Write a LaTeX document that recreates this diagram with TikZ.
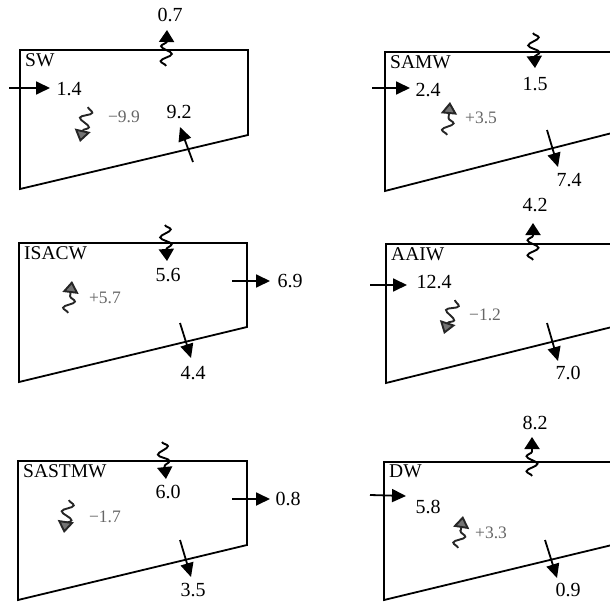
\documentclass[tikz,border=0pt]{standalone}
\usepackage{fontspec}
\setmainfont{Liberation Serif}
\usetikzlibrary{arrows.meta,decorations.pathmorphing}
\tikzset{
  box/.style={line width=1.8pt, line join=miter},
  flow/.style={line width=1.8pt, -{Triangle[length=14pt,width=13pt]}},
  wave/.style={line width=1.9pt, decorate, decoration={snake,amplitude=5.5pt,segment length=15pt,post length=9pt}, -{Triangle[length=12pt,width=15pt]}},
  mixwave/.style={wave, draw=black!85, -{Triangle[length=12pt,width=16pt,fill=black!55]}},
  num/.style={font=\fontsize{20}{22}\selectfont, inner sep=0pt},
  wname/.style={font=\fontsize{19.5}{21}\selectfont, anchor=north west, inner sep=0pt},
  mix/.style={font=\fontsize{17.5}{19}\selectfont, text=black!60, inner sep=0pt}
}
\begin{document}
\begin{tikzpicture}[x=1pt,y=-1pt]
\useasboundingbox (0,0) rectangle (610,604);
% SW
\draw[box] (20,50) -- (248,50) -- (248,135) -- (20,189) -- cycle;
\node[wname] (sw) at (25,53) {SW};
\coordinate (sw-t0) at (166,66); \coordinate (sw-t1) at (167,30);
\draw[wave] (sw-t0) -- (sw-t1);
\node[num] (sw-top) at (170,15) {0.7};
\coordinate (sw-i0) at (9,88); \coordinate (sw-i1) at (50,88);
\draw[flow] (sw-i0) -- (sw-i1);
\node[num] (sw-in) at (69,89) {1.4};
\coordinate (sw-m0) at (88,107); \coordinate (sw-m1) at (80,142);
\draw[mixwave] (sw-m0) -- (sw-m1);
\node[mix] (sw-mix) at (124,117) {−9.9};
\coordinate (sw-b0) at (193,162); \coordinate (sw-b1) at (180,127);
\draw[flow] (sw-b0) -- (sw-b1);
\node[num] (sw-bot) at (179,112) {9.2};
% SAMW
\draw[box] (385,52) -- (612,52) -- (612,133) -- (385,191) -- cycle;
\node[wname] (samw) at (390,55) {SAMW};
\coordinate (samw-t0) at (533,33); \coordinate (samw-t1) at (535,68);
\draw[wave] (samw-t0) -- (samw-t1);
\node[num] (samw-top) at (535,84) {1.5};
\coordinate (samw-i0) at (372,88); \coordinate (samw-i1) at (410,88);
\draw[flow] (samw-i0) -- (samw-i1);
\node[num] (samw-in) at (428,90) {2.4};
\coordinate (samw-m0) at (447,135); \coordinate (samw-m1) at (450,102);
\draw[mixwave] (samw-m0) -- (samw-m1);
\node[mix] (samw-mix) at (481,118) {+3.5};
\coordinate (samw-b0) at (547,130); \coordinate (samw-b1) at (558,167);
\draw[flow] (samw-b0) -- (samw-b1);
\node[num] (samw-bot) at (569,180) {7.4};
% ISACW
\draw[box] (19,243) -- (247,243) -- (247,327) -- (19,382) -- cycle;
\node[wname] (isacw) at (24,246) {ISACW};
\coordinate (isacw-t0) at (165,225); \coordinate (isacw-t1) at (167,261);
\draw[wave] (isacw-t0) -- (isacw-t1);
\node[num] (isacw-top) at (168,275) {5.6};
\coordinate (isacw-o0) at (232,281); \coordinate (isacw-o1) at (270,281);
\draw[flow] (isacw-o0) -- (isacw-o1);
\node[num] (isacw-out) at (290,281) {6.9};
\coordinate (isacw-m0) at (68,313); \coordinate (isacw-m1) at (72,281);
\draw[mixwave] (isacw-m0) -- (isacw-m1);
\node[mix] (isacw-mix) at (105,298) {+5.7};
\coordinate (isacw-b0) at (180,323); \coordinate (isacw-b1) at (191,358);
\draw[flow] (isacw-b0) -- (isacw-b1);
\node[num] (isacw-bot) at (193,373) {4.4};
% AAIW
\draw[box] (386,244) -- (612,244) -- (612,327) -- (386,383) -- cycle;
\node[wname] (aaiw) at (391,247) {AAIW};
\coordinate (aaiw-t0) at (533,260); \coordinate (aaiw-t1) at (533,223);
\draw[wave] (aaiw-t0) -- (aaiw-t1);
\node[num] (aaiw-top) at (535,205) {4.2};
\coordinate (aaiw-i0) at (370,285); \coordinate (aaiw-i1) at (407,285);
\draw[flow] (aaiw-i0) -- (aaiw-i1);
\node[num] (aaiw-in) at (434,282) {12.4};
\coordinate (aaiw-m0) at (455,300); \coordinate (aaiw-m1) at (444,334);
\draw[mixwave] (aaiw-m0) -- (aaiw-m1);
\node[mix] (aaiw-mix) at (485,315) {−1.2};
\coordinate (aaiw-b0) at (547,323); \coordinate (aaiw-b1) at (558,361);
\draw[flow] (aaiw-b0) -- (aaiw-b1);
\node[num] (aaiw-bot) at (568,373) {7.0};
% SASTMW
\draw[box] (18,461) -- (247,461) -- (247,545) -- (18,600) -- cycle;
\node[wname] (sastmw) at (23,464) {SASTMW};
\coordinate (sastmw-t0) at (162,442); \coordinate (sastmw-t1) at (166,479);
\draw[wave] (sastmw-t0) -- (sastmw-t1);
\node[num] (sastmw-top) at (168,492) {6.0};
\coordinate (sastmw-o0) at (232,499); \coordinate (sastmw-o1) at (270,499);
\draw[flow] (sastmw-o0) -- (sastmw-o1);
\node[num] (sastmw-out) at (288,499) {0.8};
\coordinate (sastmw-m0) at (69,500); \coordinate (sastmw-m1) at (64,533);
\draw[mixwave] (sastmw-m0) -- (sastmw-m1);
\node[mix] (sastmw-mix) at (105,517) {−1.7};
\coordinate (sastmw-b0) at (180,540); \coordinate (sastmw-b1) at (191,577);
\draw[flow] (sastmw-b0) -- (sastmw-b1);
\node[num] (sastmw-bot) at (193,590) {3.5};
% DW
\draw[box] (384,462) -- (612,462) -- (612,545) -- (384,600) -- cycle;
\node[wname] (dw) at (389,465) {DW};
\coordinate (dw-t0) at (532,476); \coordinate (dw-t1) at (532,437);
\draw[wave] (dw-t0) -- (dw-t1);
\node[num] (dw-top) at (535,423) {8.2};
\coordinate (dw-i0) at (370,495); \coordinate (dw-i1) at (406,496);
\draw[flow] (dw-i0) -- (dw-i1);
\node[num] (dw-in) at (428,507) {5.8};
\coordinate (dw-m0) at (458,548); \coordinate (dw-m1) at (463,516);
\draw[mixwave] (dw-m0) -- (dw-m1);
\node[mix] (dw-mix) at (491,533) {+3.3};
\coordinate (dw-b0) at (545,540); \coordinate (dw-b1) at (557,578);
\draw[flow] (dw-b0) -- (dw-b1);
\node[num] (dw-bot) at (568,590) {0.9};
\end{tikzpicture}
\end{document}
